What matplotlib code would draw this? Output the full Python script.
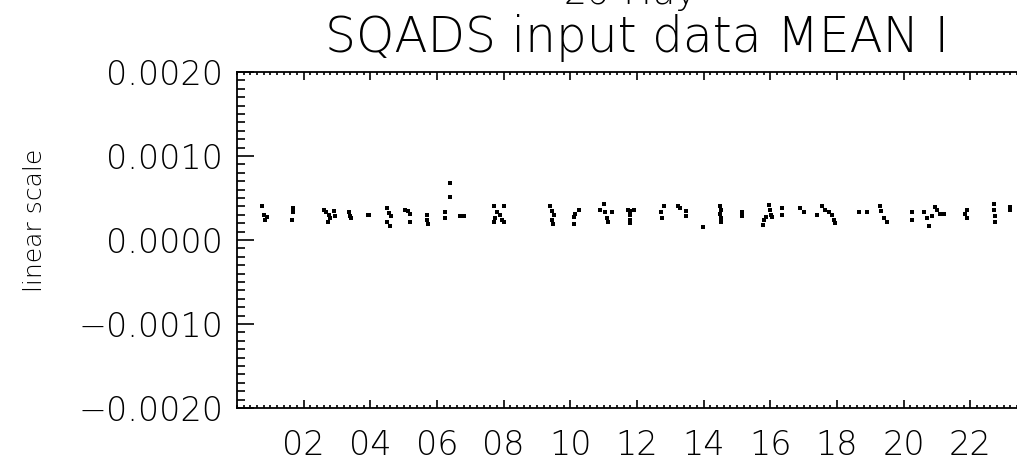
import matplotlib
matplotlib.use("Agg")
import matplotlib.pyplot as plt
from matplotlib.ticker import MultipleLocator

# hour of day and mean value for each SQADS sample
hours = [
    0.75, 0.80, 0.90, 0.84,
    1.68, 1.68, 1.66,
    2.60, 2.68, 2.75, 2.80, 2.90, 2.95, 2.72,
    3.36, 3.40, 3.42,
    3.93, 3.97,
    4.50, 4.55, 4.62, 4.50, 4.58,
    5.05, 5.12, 5.18, 5.20,
    5.70, 5.70, 5.72,
    6.25, 6.25, 6.38, 6.38,
    6.70, 6.80,
    7.70, 7.80, 7.90, 8.00, 7.75, 7.95, 7.70, 8.02,
    9.40, 9.45, 9.50, 9.45, 9.48,
    10.25, 10.15, 10.10, 10.12,
    11.00, 10.90, 11.05, 11.25, 11.10, 11.12,
    11.72, 11.80, 11.92, 11.80, 11.78, 11.80,
    12.80, 12.72, 12.75,
    13.22, 13.30, 13.48, 13.48,
    13.98,
    14.50, 14.52, 14.50, 14.52, 14.52,
    15.15, 15.15,
    15.95, 15.98, 16.02, 15.88, 15.80, 15.78, 16.05,
    16.35, 16.35,
    16.90, 17.00,
    17.40, 17.55, 17.65, 17.75, 17.85, 17.90, 17.95,
    18.65, 18.90,
    19.30, 19.32, 19.40, 19.50,
    20.25, 20.25,
    20.60, 20.70, 20.75, 20.85, 20.95, 21.00, 21.10, 21.20,
    21.90, 21.85, 21.90,
    22.70, 22.70, 22.75, 22.75,
    23.20, 23.20,
]
mean_i = [
    0.00040, 0.00030, 0.00027, 0.00024,
    0.00038, 0.00033, 0.00024,
    0.00036, 0.00033, 0.00030, 0.00026, 0.00034, 0.00028, 0.00021,
    0.00033, 0.00028, 0.00026,
    0.00030, 0.00030,
    0.00038, 0.00032, 0.00029, 0.00022, 0.00017,
    0.00036, 0.00035, 0.00031, 0.00022,
    0.00030, 0.00024, 0.00019,
    0.00033, 0.00026, 0.00068, 0.00051,
    0.00028, 0.00028,
    0.00040, 0.00033, 0.00030, 0.00040, 0.00026, 0.00024, 0.00021, 0.00021,
    0.00040, 0.00035, 0.00030, 0.00024, 0.00019,
    0.00036, 0.00031, 0.00027, 0.00019,
    0.00043, 0.00036, 0.00033, 0.00033, 0.00026, 0.00021,
    0.00036, 0.00035, 0.00036, 0.00030, 0.00024, 0.00020,
    0.00040, 0.00033, 0.00026,
    0.00041, 0.00038, 0.00035, 0.00028,
    0.00015,
    0.00041, 0.00036, 0.00031, 0.00026, 0.00021,
    0.00033, 0.00029,
    0.00042, 0.00036, 0.00030, 0.00027, 0.00024, 0.00018, 0.00027,
    0.00038, 0.00030,
    0.00038, 0.00033,
    0.00030, 0.00041, 0.00036, 0.00033, 0.00030, 0.00024, 0.00020,
    0.00033, 0.00033,
    0.00040, 0.00034, 0.00026, 0.00022,
    0.00033, 0.00024,
    0.00033, 0.00026, 0.00017, 0.00028, 0.00039, 0.00036, 0.00031, 0.00031,
    0.00036, 0.00031, 0.00026,
    0.00043, 0.00036, 0.00028, 0.00022,
    0.00039, 0.00036,
]

tick_hours = [2, 4, 6, 8, 10, 12, 14, 16, 18, 20, 22]
tick_labels = ["02", "04", "06", "08", "10", "12", "14", "16", "18", "20", "22"]
y_ticks = [-0.002, -0.001, 0.0, 0.001, 0.002]
y_labels = ["\u22120.0020", "\u22120.0010", "0.0000", "0.0010", "0.0020"]

plt.rcParams["font.family"] = "DejaVu Sans"
plt.rcParams["font.weight"] = "ultralight"

fig = plt.figure(figsize=(10.17, 4.72), dpi=100)
ax = fig.add_axes([0.233, 0.1356, 0.7866, 0.7119])

ax.plot(hours, mean_i, linestyle="none", marker="s", markersize=2.6,
        color="black", markeredgewidth=0)

ax.set_xlim(0, 24)
ax.set_ylim(-0.002, 0.002)

ax.set_xticks(tick_hours)
ax.set_xticklabels(tick_labels)
ax.xaxis.set_minor_locator(MultipleLocator(0.2))
ax.set_yticks(y_ticks)
ax.set_yticklabels(y_labels)
ax.yaxis.set_minor_locator(MultipleLocator(0.0001))

ax.tick_params(which="both", direction="in", top=True, right=True,
               width=1.2, labelsize=24, colors="black")
ax.tick_params(axis="x", which="major", length=5.5, pad=15)
ax.tick_params(axis="x", which="minor", length=2.5)
ax.tick_params(axis="y", which="major", length=12, pad=10)
ax.tick_params(axis="y", which="minor", length=6)
for s in ax.spines.values():
    s.set_linewidth(1.3)

fig.text(35 / 1017, 1 - 220 / 472, "linear scale", rotation=90, fontsize=18,
         ha="center", va="center")
fig.text(637 / 1017, 1 - 38 / 472, "SQADS input data MEAN I", fontsize=35,
         ha="center", va="center")
# date line sits above the title, mostly outside the canvas
fig.text(630 / 1017, 1 - 4 / 472, "26-May", fontsize=26,
         ha="center", va="baseline")

fig.savefig("out.png", dpi=100)
